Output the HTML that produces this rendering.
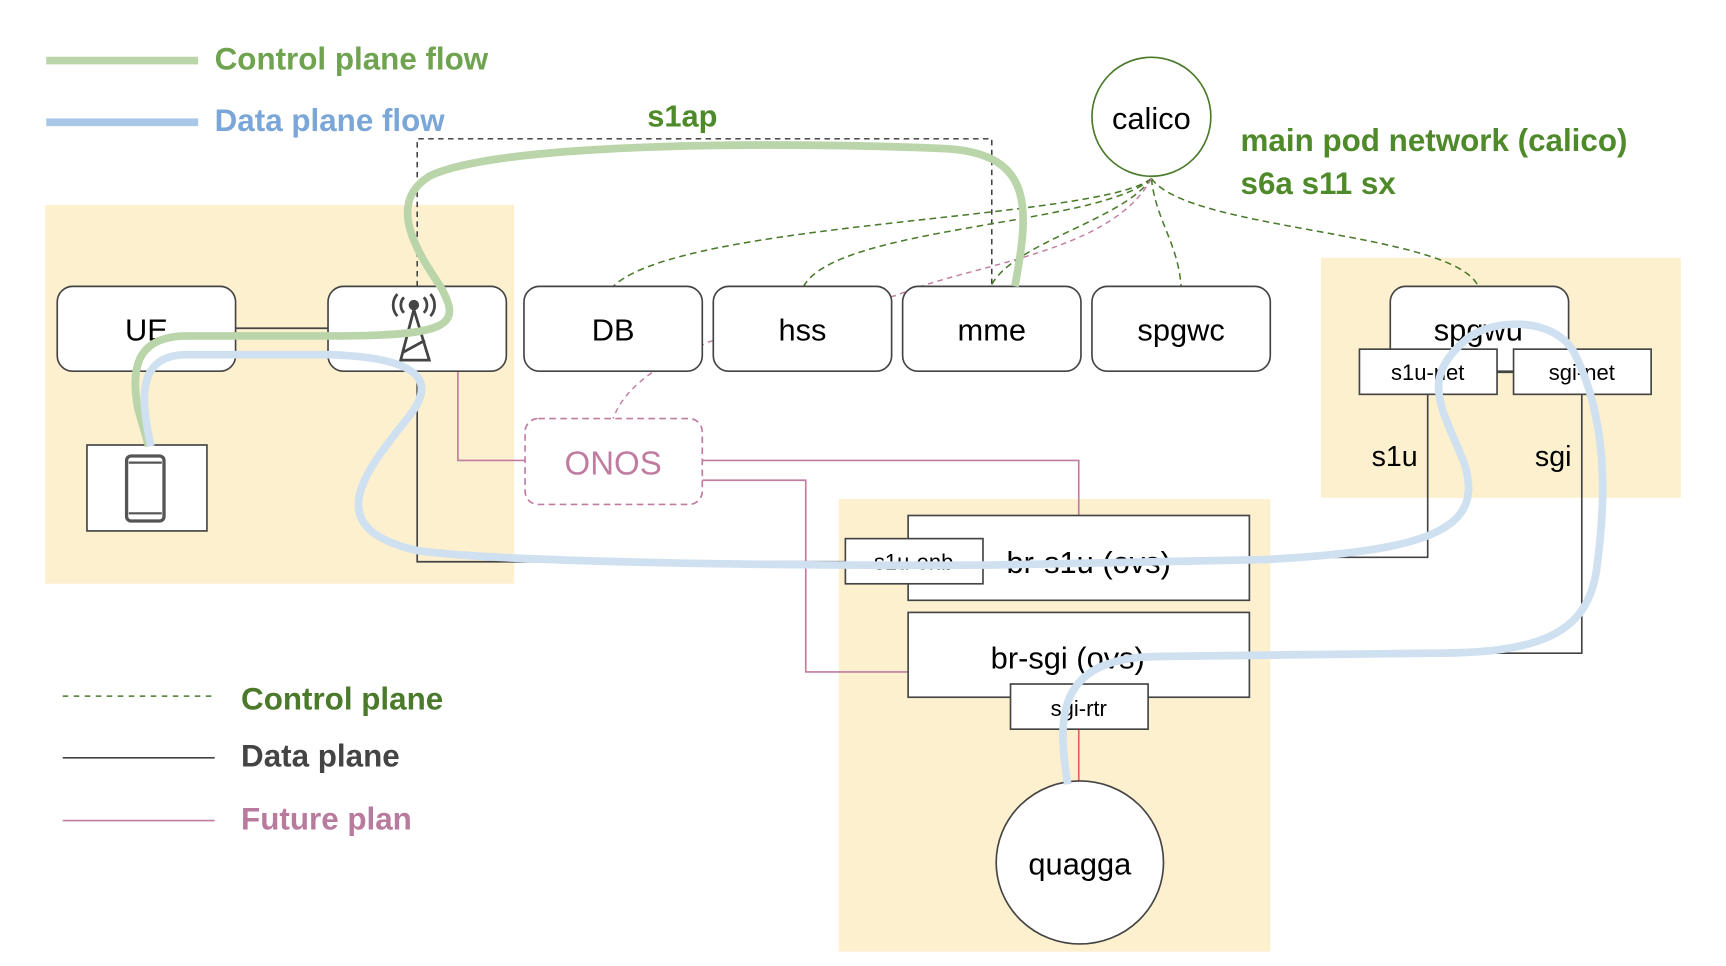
<!DOCTYPE html>
<html><head><meta charset="utf-8"><style>
html,body{margin:0;padding:0;background:#fff;}
svg{display:block;}
text{font-family:"Liberation Sans",sans-serif;}
.b{font-weight:bold;}
</style></head><body>
<svg width="1726" height="966" viewBox="0 0 1568 877" preserveAspectRatio="none" xmlns="http://www.w3.org/2000/svg">
<!-- yellow regions -->
<rect x="41" y="186" width="426" height="344" fill="#fcf0cf"/>
<rect x="762" y="453" width="392" height="411" fill="#fcf0cf"/>
<rect x="1200" y="234" width="327" height="218" fill="#fcf0cf"/>

<!-- legend -->
<line x1="42" y1="55" x2="180" y2="55" stroke="#b9d5a9" stroke-width="7"/>
<text x="195" y="63" class="b" font-size="28.5" fill="#6fa34f">Control plane flow</text>
<line x1="42" y1="111" x2="180" y2="111" stroke="#a9c8e8" stroke-width="7"/>
<text x="195" y="119" class="b" font-size="28.5" fill="#7aa6d8">Data plane flow</text>

<line x1="57" y1="632" x2="195" y2="632" stroke="#4a7a2a" stroke-width="1.3" stroke-dasharray="5,5"/>
<text x="219" y="644" class="b" font-size="28.5" fill="#4a7a2a">Control plane</text>
<line x1="57" y1="688" x2="195" y2="688" stroke="#444" stroke-width="1.5"/>
<text x="219" y="696" class="b" font-size="28.5" fill="#444">Data plane</text>
<line x1="57" y1="745" x2="195" y2="745" stroke="#c07ca0" stroke-width="1.5"/>
<text x="219" y="753" class="b" font-size="28.5" fill="#b87a9d">Future plan</text>

<!-- s1ap dashed -->
<path d="M379,260 V126 H901 V260" fill="none" stroke="#333" stroke-width="1.3" stroke-dasharray="5,4"/>
<text x="588" y="115" class="b" font-size="28" fill="#4f8a2a">s1ap</text>

<!-- green dashed from calico -->
<g fill="none" stroke="#4a7a2a" stroke-width="1.4" stroke-dasharray="6,4">
<path d="M1046,162 C1000,200 620,200 557,260"/>
<path d="M1046,162 C1000,205 760,205 730,260"/>
<path d="M1046,162 C1020,200 920,220 900,260"/>
<path d="M1046,162 C1050,200 1070,220 1073,260"/>
<path d="M1046,162 C1080,210 1320,210 1343,260"/>
</g>
<!-- pink dashed -->
<path d="M1046,162 C1010,230 880,240 815,268 L645,310 C600,330 568,350 557,380" fill="none" stroke="#c07ca0" stroke-width="1.3" stroke-dasharray="5,4"/>

<!-- calico -->
<ellipse cx="1046" cy="106" rx="54" ry="54" fill="#fff" stroke="#4a7a2a" stroke-width="1.5"/>
<text x="1046" y="117" font-size="28" text-anchor="middle">calico</text>
<text x="1127" y="137" class="b" font-size="28.5" fill="#4f8a2a">main pod network (calico)</text>
<text x="1127" y="176" class="b" font-size="28.5" fill="#4f8a2a">s6a s11 sx</text>

<!-- data plane black lines -->
<g fill="none" stroke="#444" stroke-width="1.5">
<line x1="214" y1="298" x2="298" y2="298"/>
<line x1="133" y1="337" x2="133" y2="404"/>
<path d="M379,337 V510 H768"/>
<path d="M1135,506 H1297 V358"/>
<path d="M1437,358 V593 H1135"/>
<line x1="1360" y1="338" x2="1375" y2="338"/>
</g>
<!-- pink future lines -->
<g fill="none" stroke="#c07ca0" stroke-width="1.5">
<path d="M416,337 V418 H477"/>
<path d="M638,418 H980 V468"/>
<path d="M638,436 H732 V610 H825"/>
</g>
<line x1="980" y1="662" x2="980" y2="709" stroke="#e06060" stroke-width="1.5"/>

<!-- boxes -->
<g fill="#fff" stroke="#444" stroke-width="1.5">
<rect x="52" y="260" width="162" height="77" rx="14"/>
<rect x="298" y="260" width="162" height="77" rx="14"/>
<rect x="476" y="260" width="162" height="77" rx="14"/>
<rect x="648" y="260" width="162" height="77" rx="14"/>
<rect x="820" y="260" width="162" height="77" rx="14"/>
<rect x="992" y="260" width="162" height="77" rx="14"/>
<rect x="1263" y="260" width="162" height="77" rx="14"/>
<rect x="1235" y="317" width="125" height="41"/>
<rect x="1375" y="317" width="125" height="41"/>
<rect x="79" y="404" width="109" height="78"/>
<rect x="825" y="468" width="310" height="77"/>
<rect x="768" y="489" width="125" height="41"/>
<rect x="825" y="556" width="310" height="77"/>
<rect x="918" y="621" width="125" height="41"/>
<ellipse cx="981" cy="783" rx="76" ry="74"/>
</g>
<rect x="477" y="380" width="161" height="78" rx="12" fill="#fff" stroke="#c07ca0" stroke-width="1.5" stroke-dasharray="6,4"/>

<g font-size="28" text-anchor="middle">
<text x="133" y="309">UE</text>
<text x="557" y="309">DB</text>
<text x="729" y="309">hss</text>
<text x="901" y="309">mme</text>
<text x="1073" y="309">spgwc</text>
<text x="1343" y="309">spgwu</text>
<text x="557" y="431" fill="#c07ca0" font-size="30">ONOS</text>
<text x="989" y="520">br-s1u (ovs)</text>
<text x="970" y="607">br-sgi (ovs)</text>
<text x="981" y="794">quagga</text>
<text x="1267" y="423" font-size="26">s1u</text>
<text x="1411" y="423" font-size="26">sgi</text>
</g>
<g font-size="20" text-anchor="middle">
<text x="1297" y="345">s1u-net</text>
<text x="1437" y="345">sgi-net</text>
<text x="830" y="517">s1u-enb</text>
<text x="980" y="650">sgi-rtr</text>
</g>

<!-- phone icon -->
<rect x="115" y="414" width="34" height="59" rx="4" fill="#fff" stroke="#555" stroke-width="3"/>
<line x1="117" y1="420" x2="147" y2="420" stroke="#555" stroke-width="2"/>
<line x1="117" y1="466" x2="147" y2="466" stroke="#555" stroke-width="2"/>
<!-- tower icon -->
<g stroke="#444" fill="none" stroke-width="2.5">
<circle cx="376" cy="277" r="3.5" fill="#444"/>
<path d="M367,270 a10,10 0 0 0 0,14 M385,270 a10,10 0 0 1 0,14"/>
<path d="M361,267 a15,15 0 0 0 0,20 M391,267 a15,15 0 0 1 0,20"/>
<path d="M376,281 L364,327 H390 Z M370,304 L383,302 M366,320 L386,309"/>
</g>

<!-- flows -->
<path d="M922,260 C935,190 940,140 860,135 C700,128 450,130 390,160 C350,185 380,230 400,260 C420,295 410,305 300,305 L170,305 C120,305 120,340 125,370 L135,405" fill="none" stroke="#b9d5a9" stroke-width="7"/>
<path d="M137,405 C130,370 120,322 170,322 L300,322 C390,325 395,350 370,380 C330,430 290,480 380,500 C450,510 700,514 900,513 L1150,508 C1300,500 1350,480 1330,420 C1310,370 1290,345 1330,310 C1350,290 1410,285 1430,320 C1460,380 1460,450 1450,520 C1440,580 1390,593 1300,593 L1050,596 C960,598 960,650 970,712" fill="none" stroke="#cfe0f0" stroke-width="7"/>
</svg>
</body></html>
